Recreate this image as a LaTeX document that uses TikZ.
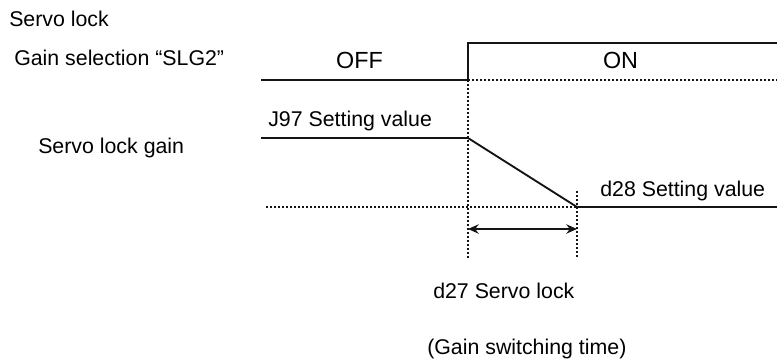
\documentclass[tikz,border=0pt]{standalone}
\usepackage{fontspec}
\setmainfont{Liberation Sans}
\usepackage{tikz}
\usetikzlibrary{arrows.meta, positioning, calc}
\definecolor{mydark}{RGB}{20,20,20}
\tikzset{
  sigline/.style={line width=1.4pt, color=mydark},
  dotline/.style={line width=1.2pt, color=mydark, dash pattern=on 1.5pt off 1.5pt},
  dimarrow/.style={{Stealth[length=8pt,width=7pt]}-{Stealth[length=8pt,width=7pt]}, line width=1.4pt, color=mydark},
  lbl/.style={anchor=base west, inner sep=0pt, font=\fontsize{16}{19}\selectfont},
  statelbl/.style={anchor=base, inner sep=0pt, font=\fontsize{17.5}{21}\selectfont}
}

\begin{document}
\begin{tikzpicture}[x=0.75pt, y=-0.75pt]
  \useasboundingbox (0,0) rectangle (777,358);

  % Labels
  \node[lbl] (title) at (9,26) {Servo lock};
  \node[lbl] (slg) at (14,65) {Gain selection “SLG2”};
  \node[lbl] (gain) at (38,153) {Servo lock gain};
  \node[statelbl] (off) at (359.5,68) {OFF};
  \node[statelbl] (on) at (620.5,68) {ON};
  \node[lbl] (j97) at (268,126) {J97 Setting value};
  \node[lbl] (d28) at (600,196) {d28 Setting value};
  \node[lbl] (d27) at (433,298) {d27 Servo lock};
  \node[lbl] (gst) at (427,354) {(Gain switching time)};

  % Gain selection signal
  \coordinate (s0) at (261,80);
  \coordinate (srise) at (468,80);
  \coordinate (stop) at (468,43);
  \coordinate (send) at (777,43);
  \coordinate (sbase) at (777,80);
  \draw[sigline] (s0) -- (srise) -- (stop) -- (send);
  \draw[dotline] (srise) -- (sbase);

  % Servo lock gain
  \coordinate (g0) at (261,138);
  \coordinate (gk) at (468,138);
  \coordinate (gd) at (577,207);
  \coordinate (gend) at (777,207);
  \coordinate (gdot) at (266,207);
  \draw[sigline] (g0) -- (gk) -- (gd) -- (gend);
  \draw[dotline] (gdot) -- (gd);

  % Switching time
  \coordinate (t0) at (468,258);
  \coordinate (t1top) at (577,191);
  \coordinate (t1) at (577,258);
  \coordinate (a0) at (468,229);
  \coordinate (a1) at (577,229);
  \draw[dotline] (srise) -- (t0);
  \draw[dotline] (t1top) -- (t1);
  \draw[dimarrow] (a0) -- (a1);
\end{tikzpicture}
\end{document}
